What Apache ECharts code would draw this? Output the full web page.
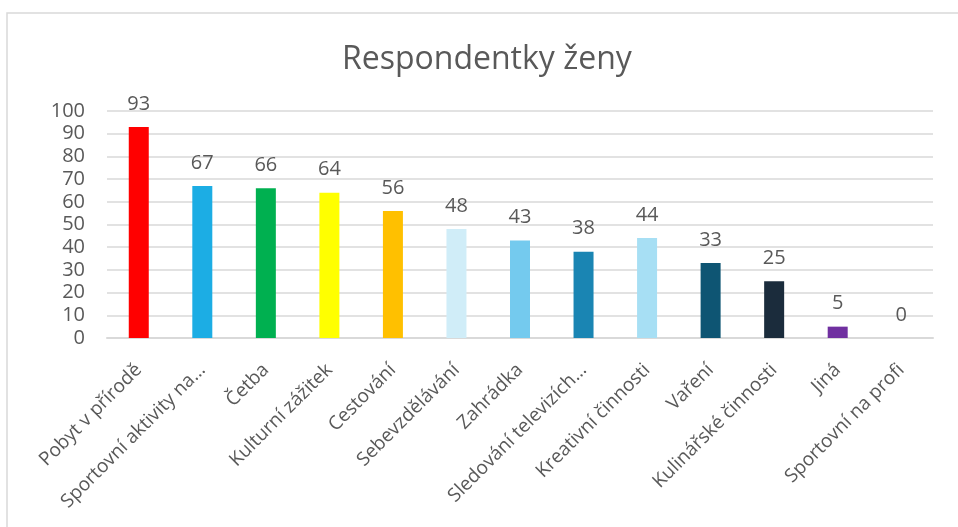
<!DOCTYPE html>
<html>
<head>
<meta charset="utf-8">
<script src="https://cdn.jsdelivr.net/npm/echarts@6/dist/echarts.min.js"></script>
<style>
  html, body { margin: 0; padding: 0; background: #fff; }
  #chart { width: 958px; height: 527px; }
</style>
</head>
<body>
<div id="chart"></div>
<script>
// categories (long ones are cut in the original)
const categories = [
  'Pobyt v přírodě', 'Sportovní aktivity na…', 'Četba', 'Kulturní zážitek', 'Cestování',
  'Sebevzdělávání', 'Zahrádka', 'Sledování televizích…', 'Kreativní činnosti', 'Vaření',
  'Kulinářské činnosti', 'Jiná', 'Sportovní na profi'
];
const values = [93, 67, 66, 64, 56, 48, 43, 38, 44, 33, 25, 5, 0];
const barColors = [
  '#FF0000', '#1CADE4', '#00B050', '#FFFF00', '#FFC000',
  '#D0EDF8', '#74CAEE', '#1A85B3', '#A7DFF4', '#0E5573',
  '#1B2C3C', '#7030A0', '#7F7F7F'
];
const yTicks = { min: 0, max: 100, interval: 10 };

const font = '"Open Sans", "Liberation Sans", sans-serif';
const textColor = '#595959';
const lineColor = '#d9d9d9';

const chart = echarts.init(document.getElementById('chart'));

chart.setOption({
  animation: false,
  textStyle: { fontFamily: font },
  graphic: [
    {
      type: 'rect',
      shape: { x: 7, y: 13, width: 1000, height: 600 },
      style: { fill: 'none', stroke: lineColor, lineWidth: 1.5 },
      silent: true
    }
  ],
  title: {
    text: 'Respondentky ženy',
    left: 337,
    top: 39,
    textStyle: { color: textColor, fontSize: 32, fontWeight: 'normal', fontFamily: font }
  },
  grid: { left: 107, right: 25, top: 111, bottom: 189 },
  xAxis: {
    type: 'category',
    data: categories,
    axisLine: { lineStyle: { color: lineColor, width: 2 } },
    axisTick: { show: false },
    axisLabel: {
      interval: 0,
      rotate: 45,
      margin: 29,
      color: textColor,
      fontSize: 19,
      fontFamily: font
    }
  },
  yAxis: {
    type: 'value',
    min: yTicks.min,
    max: yTicks.max,
    interval: yTicks.interval,
    axisLine: { show: false },
    axisTick: { show: false },
    axisLabel: { color: textColor, fontSize: 20, margin: 22, fontFamily: font },
    splitLine: { lineStyle: { color: lineColor, width: 1.5 } }
  },
  series: [
    {
      type: 'bar',
      barWidth: 20,
      data: values.map((v, i) => ({ value: v, itemStyle: { color: barColors[i] } })),
      label: {
        show: true,
        position: 'top',
        distance: 13,
        color: textColor,
        fontSize: 20,
        fontFamily: font
      }
    }
  ]
});

window.addEventListener('resize', () => chart.resize());
</script>
</body>
</html>
